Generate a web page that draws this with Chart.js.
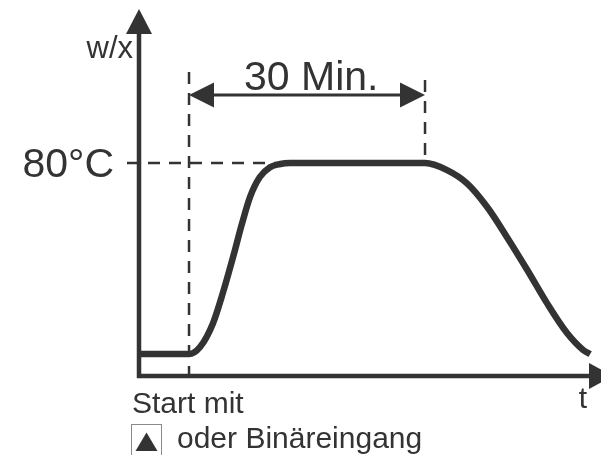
<!DOCTYPE html>
<html>
<head>
<meta charset="utf-8">
<script src="https://cdn.jsdelivr.net/npm/chart.js@4.4.1/dist/chart.umd.min.js"></script>
<style>
  html, body { margin: 0; padding: 0; background: #fff; }
  canvas { display: block; }
</style>
</head>
<body>
<canvas id="chart" width="601" height="455"></canvas>
<script>
// curve: time in minutes, temperature in °C
const timeMin = [-6.4, 0, 1.4, 3.05, 4.3, 5.6, 6.75, 7.75, 9.0, 10.3, 11.6, 12.8,
  30, 32.8, 35.3, 37.9, 40.4, 43.0, 45.5, 48.05, 50.1, 51.0];
const tempC = [20, 20, 22.2, 29.7, 39.2, 50.5, 61.1, 69.3, 75.6, 78.7, 79.7, 80,
  80, 77.8, 73.7, 66.2, 56.8, 46.4, 36.0, 26.6, 21.3, 20];

const startTime = 0;
const holdEnd = 30;
const setTemp = 80;

const yAxisLabel = "w/x";
const xAxisLabel = "t";
const setTempLabel = "80°C";
const holdLabel = "30 Min.";
const startLabel = "Start mit";
const startLabel2 = "oder Binäreingang";

const ink = "#333333";
const fontName = "'Liberation Sans', Arial, sans-serif";

function arrowHead(ctx, tipX, tipY, dir, len, half) {
  // dir: 'up', 'right', 'left'
  ctx.beginPath();
  if (dir === "up") {
    ctx.moveTo(tipX, tipY);
    ctx.lineTo(tipX - half, tipY + len);
    ctx.lineTo(tipX + half, tipY + len);
  } else if (dir === "right") {
    ctx.moveTo(tipX, tipY);
    ctx.lineTo(tipX - len, tipY - half);
    ctx.lineTo(tipX - len, tipY + half);
  } else {
    ctx.moveTo(tipX, tipY);
    ctx.lineTo(tipX + len, tipY - half);
    ctx.lineTo(tipX + len, tipY + half);
  }
  ctx.closePath();
  ctx.fill();
}

const diagramPlugin = {
  id: "diagram",
  beforeDatasetsDraw(chart) {
    const ctx = chart.ctx;
    const area = chart.chartArea;
    const xs = chart.scales.x;
    const ys = chart.scales.y;
    const x0 = xs.getPixelForValue(startTime);
    const x30 = xs.getPixelForValue(holdEnd);
    const y80 = ys.getPixelForValue(setTemp);

    ctx.save();
    ctx.strokeStyle = ink;
    ctx.fillStyle = ink;

    // dashed helper lines
    ctx.lineWidth = 2.5;
    ctx.setLineDash([12, 9]);
    ctx.beginPath();
    ctx.moveTo(area.left - 12, y80);
    ctx.lineTo(xs.getPixelForValue(12), y80);
    ctx.stroke();

    ctx.beginPath();
    ctx.moveTo(x0, 72);
    ctx.lineTo(x0, area.bottom + 8);
    ctx.stroke();

    ctx.beginPath();
    ctx.moveTo(x30, 80);
    ctx.lineTo(x30, y80);
    ctx.stroke();
    ctx.setLineDash([]);

    // axes
    ctx.lineWidth = 4.5;
    ctx.beginPath();
    ctx.moveTo(area.left, area.bottom + 2);
    ctx.lineTo(area.left, area.top + 22);
    ctx.stroke();
    arrowHead(ctx, area.left, area.top, "up", 25, 13);

    ctx.beginPath();
    ctx.moveTo(area.left - 2, area.bottom);
    ctx.lineTo(area.right - 12, area.bottom);
    ctx.stroke();
    arrowHead(ctx, area.right + 12, area.bottom, "right", 24, 13);

    // 30 min dimension arrow
    const yDim = 95;
    ctx.lineWidth = 3;
    ctx.beginPath();
    ctx.moveTo(x0 + 20, yDim);
    ctx.lineTo(x30 - 20, yDim);
    ctx.stroke();
    arrowHead(ctx, x0, yDim, "left", 25, 12.5);
    arrowHead(ctx, x30, yDim, "right", 25, 12.5);
    ctx.restore();
  },
  afterDraw(chart) {
    const ctx = chart.ctx;
    const area = chart.chartArea;
    const ys = chart.scales.y;
    const y80 = ys.getPixelForValue(setTemp);

    ctx.save();
    ctx.fillStyle = ink;
    ctx.textBaseline = "alphabetic";

    ctx.font = "41px " + fontName;
    ctx.textAlign = "right";
    ctx.fillText(setTempLabel, 114, y80 + 14);
    ctx.textAlign = "left";
    ctx.fillText(holdLabel, 244, 90);

    ctx.font = "31px " + fontName;
    ctx.textAlign = "right";
    ctx.fillText(yAxisLabel, area.left - 6, 58);

    ctx.font = "30px " + fontName;
    ctx.textAlign = "center";
    ctx.fillText(xAxisLabel, 583, 408);
    ctx.textAlign = "left";
    ctx.fillText(startLabel, 132, 413);
    ctx.fillText(startLabel2, 177, 448);

    // key symbol box
    ctx.strokeStyle = "#8a8a8a";
    ctx.lineWidth = 1;
    ctx.strokeRect(131.5, 424.5, 30, 31);
    ctx.beginPath();
    ctx.moveTo(146.5, 432.5);
    ctx.lineTo(135.5, 451);
    ctx.lineTo(157.5, 451);
    ctx.closePath();
    ctx.fill();
    ctx.restore();
  }
};

const points = timeMin.map((t, i) => ({ x: t, y: tempC[i] }));

new Chart(document.getElementById("chart"), {
  type: "line",
  data: {
    datasets: [{
      data: points,
      borderColor: ink,
      borderWidth: 6.5,
      pointRadius: 0,
      fill: false,
      cubicInterpolationMode: "monotone",
      borderCapStyle: "butt",
      borderJoinStyle: "round",
      clip: false
    }]
  },
  options: {
    responsive: false,
    animation: false,
    events: [],
    layout: { padding: { left: 139, right: 0, top: 9, bottom: 79 } },
    plugins: {
      legend: { display: false },
      tooltip: { enabled: false }
    },
    scales: {
      x: { type: "linear", min: -6.36, max: 52.37, display: false },
      y: { type: "linear", min: 13.1, max: 128.4, display: false }
    }
  },
  plugins: [diagramPlugin]
});
</script>
</body>
</html>
